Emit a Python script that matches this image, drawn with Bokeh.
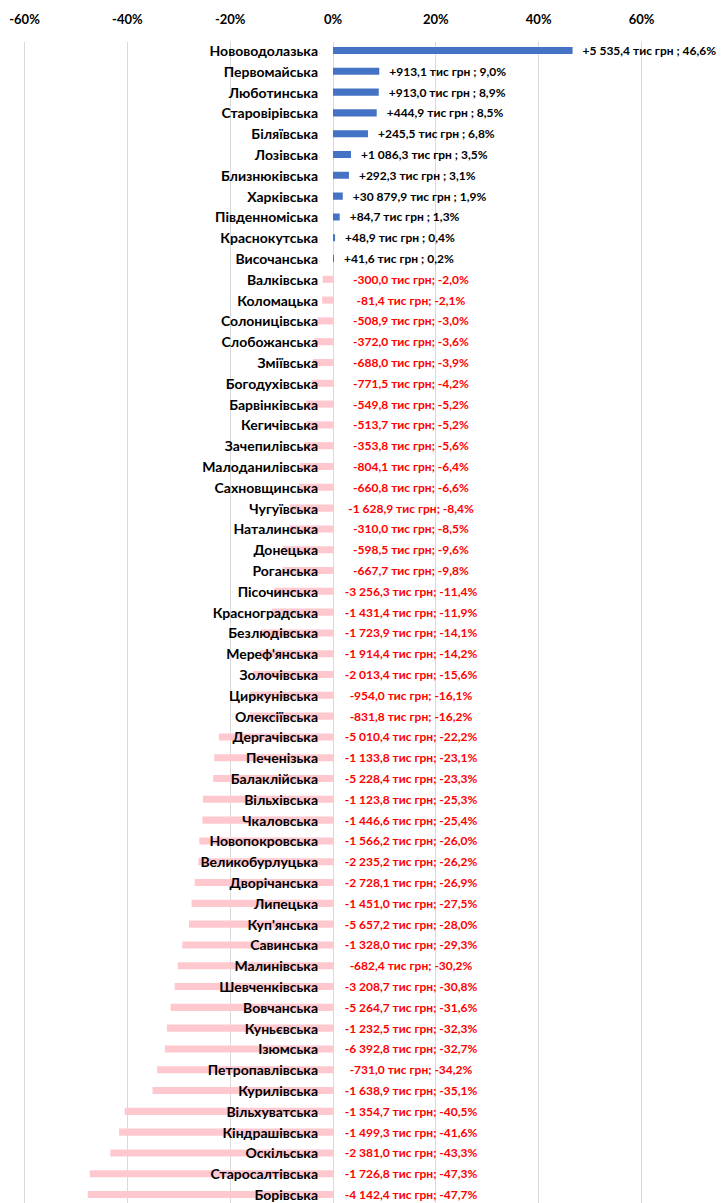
from bokeh.plotting import figure
from bokeh.models import ColumnDataSource, Range1d, FixedTicker, PrintfTickFormatter
from bokeh.core.properties import value
from bokeh.embed import file_html
from bokeh.resources import INLINE

# ---- data ----
names = [
    "Нововодолазька", "Первомайська", "Люботинська", "Старовірівська", "Біляївська",
    "Лозівська", "Близнюківська", "Харківська", "Південноміська", "Краснокутська",
    "Височанська", "Валківська", "Коломацька", "Солоницівська", "Слобожанська",
    "Зміївська", "Богодухівська", "Барвінківська", "Кегичівська", "Зачепилівська",
    "Малоданилівська", "Сахновщинська", "Чугуївська", "Наталинська", "Донецька",
    "Роганська", "Пісочинська", "Красноградська", "Безлюдівська", "Мереф'янська",
    "Золочівська", "Циркунівська", "Олексіївська", "Дергачівська", "Печенізька",
    "Балаклійська", "Вільхівська", "Чкаловська", "Новопокровська", "Великобурлуцька",
    "Дворічанська", "Липецька", "Куп'янська", "Савинська", "Малинівська",
    "Шевченківська", "Вовчанська", "Куньєвська", "Ізюмська", "Петропавлівська",
    "Курилівська", "Вільхуватська", "Кіндрашівська", "Оскільська", "Старосалтівська",
    "Борівська",
]
pct = [
    46.6, 9.0, 8.9, 8.5, 6.8, 3.5, 3.1, 1.9, 1.3, 0.4, 0.2,
    -2.0, -2.1, -3.0, -3.6, -3.9, -4.2, -5.2, -5.2, -5.6, -6.4, -6.6, -8.4, -8.5,
    -9.6, -9.8, -11.4, -11.9, -14.1, -14.2, -15.6, -16.1, -16.2, -22.2, -23.1,
    -23.3, -25.3, -25.4, -26.0, -26.2, -26.9, -27.5, -28.0, -29.3, -30.2, -30.8,
    -31.6, -32.3, -32.7, -34.2, -35.1, -40.5, -41.6, -43.3, -47.3, -47.7,
]
amount_k = [
    5535.4, 913.1, 913.0, 444.9, 245.5, 1086.3, 292.3, 30879.9, 84.7, 48.9, 41.6,
    -300.0, -81.4, -508.9, -372.0, -688.0, -771.5, -549.8, -513.7, -353.8, -804.1,
    -660.8, -1628.9, -310.0, -598.5, -667.7, -3256.3, -1431.4, -1723.9, -1914.4,
    -2013.4, -954.0, -831.8, -5010.4, -1133.8, -5228.4, -1123.8, -1446.6, -1566.2,
    -2235.2, -2728.1, -1451.0, -5657.2, -1328.0, -682.4, -3208.7, -5264.7, -1232.5,
    -6392.8, -731.0, -1638.9, -1354.7, -1499.3, -2381.0, -1726.8, -4142.4,
]
x_ticks = [-60, -40, -20, 0, 20, 40, 60]


def fmt_num(v):
    s = f"{abs(v):,.1f}"
    return s.replace(",", " ").replace(".", ",")


def make_label(a, p):
    if p >= 0:
        return f"+{fmt_num(a)} тис грн ; {fmt_num(p)}%"
    return f"-{fmt_num(a)} тис грн; -{fmt_num(p)}%"


idx = list(range(len(names)))
labels = [make_label(a, p) for a, p in zip(amount_k, pct)]

pos = [i for i in idx if pct[i] >= 0]
neg = [i for i in idx if pct[i] < 0]

src_all = ColumnDataSource(dict(y=idx, name=names, zero=[0] * len(idx)))
src_pos = ColumnDataSource(dict(y=pos, pct=[pct[i] for i in pos],
                                label=[labels[i] for i in pos]))
src_neg = ColumnDataSource(dict(y=neg, pct=[pct[i] for i in neg],
                                label=[labels[i] for i in neg],
                                zero=[0] * len(neg)))

FONT_NAME = "Lato"
FONT = value(FONT_NAME)

p = figure(width=721, height=1203, output_backend="svg", toolbar_location=None,
           x_range=Range1d(-64.67, 75.56), y_range=Range1d(55.43, -0.433),
           x_axis_location="above", y_axis_location=None,
           min_border_left=0, min_border_right=0, min_border_bottom=0,
           min_border_top=41)
p.outline_line_color = None
p.background_fill_color = "white"
p.border_fill_color = "white"

ax = p.xaxis[0]
ax.ticker = FixedTicker(ticks=x_ticks)
ax.formatter = PrintfTickFormatter(format="%d%%")
ax.axis_line_color = None
ax.major_tick_line_color = None
ax.minor_tick_line_color = None
ax.major_label_text_font = FONT_NAME
ax.major_label_text_font_style = "bold"
ax.major_label_text_font_size = "13px"
ax.major_label_text_color = "#000000"
ax.major_label_standoff = 9

p.xgrid.ticker = FixedTicker(ticks=x_ticks)
p.xgrid.grid_line_color = "#D9D9D9"
p.xgrid.grid_line_width = 1
p.ygrid.grid_line_color = None

p.hbar(y="y", left=0, right="pct", height=0.34, source=src_pos,
       fill_color="#4472C4", line_color=None)
p.hbar(y="y", left=0, right="pct", height=0.34, source=src_neg,
       fill_color="#FFC7CE", line_color=None)

p.text(x="zero", y="y", text="name", source=src_all, x_offset=-15,
       text_align="right", text_baseline="middle", text_font=FONT,
       text_font_style="bold", text_font_size="14px", text_color="#000000")

p.text(x="pct", y="y", text="label", source=src_pos, x_offset=10,
       text_align="left", text_baseline="middle", text_font=FONT,
       text_font_style="bold", text_font_size="12px", text_color="#000000")

p.text(x="zero", y="y", text="label", source=src_neg, x_offset=78,
       text_align="center", text_baseline="middle", text_font=FONT,
       text_font_style="bold", text_font_size="12px", text_color="#FF0000")

open("out.html", "w").write(file_html(p, INLINE))
